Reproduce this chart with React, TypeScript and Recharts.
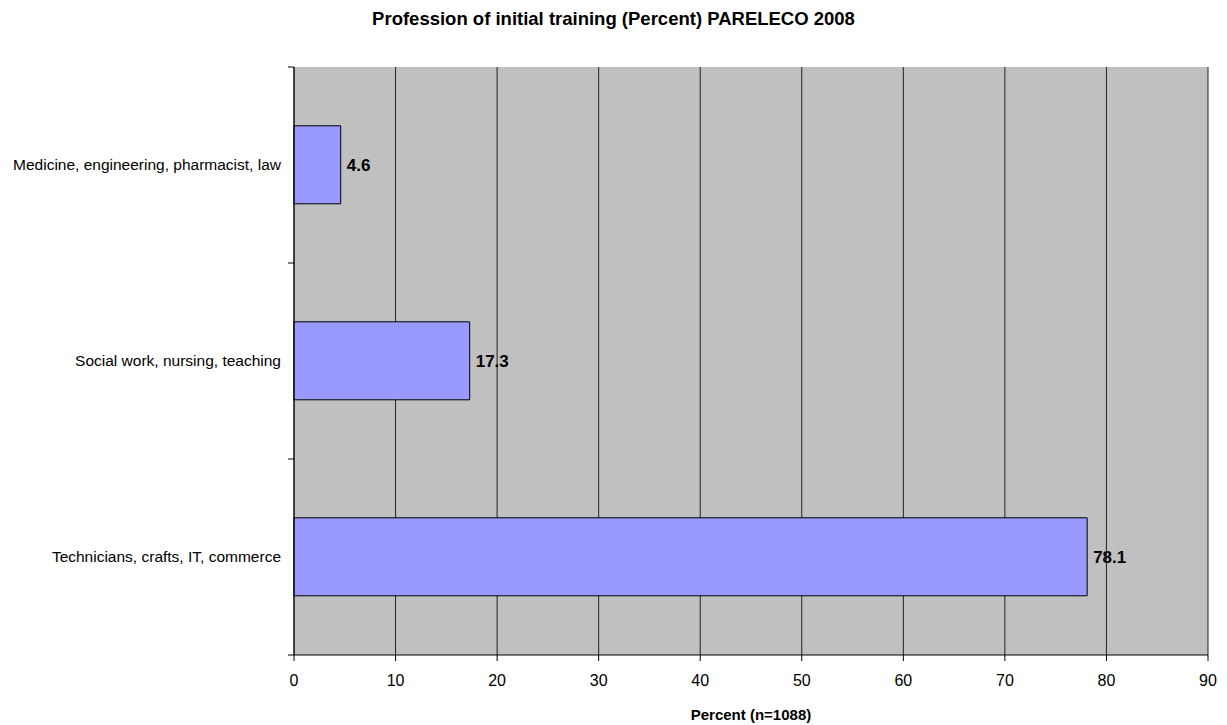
import React from "react";
import { BarChart, Bar, XAxis, YAxis, CartesianGrid, LabelList, Label } from "recharts";

const categories = [
  "Medicine, engineering, pharmacist, law",
  "Social work, nursing, teaching",
  "Technicians, crafts, IT, commerce",
];
const percents = [4.6, 17.3, 78.1];
const xTicks = [0, 10, 20, 30, 40, 50, 60, 70, 80, 90];

const data = categories.map((c, i) => ({ name: c, value: percents[i] }));

const FONT = "'Liberation Sans', Arial, sans-serif";

const CatTick = (props: any) => {
  const { x, y, payload, index, visibleTicksCount } = props;
  const half = payload && payload.offset ? payload.offset : 98;
  const isLast = index === (visibleTicksCount ?? 3) - 1;
  return (
    <g>
      <line x1={x} x2={x + 6} y1={y - half} y2={y - half} stroke="#000" />
      {isLast && <line x1={x} x2={x + 6} y1={y + half} y2={y + half} stroke="#000" />}
      <text x={x - 7} y={y} dy="0.35em" textAnchor="end" fontSize={15.5} fill="#000" fontFamily={FONT}>
        {payload.value}
      </text>
    </g>
  );
};

export default function App() {
  return (
    <div style={{ position: "absolute", left: 0, top: 0, width: 1227, height: 725, background: "#fff" }}>
      <div
        style={{
          position: "absolute",
          left: 0,
          top: 8,
          width: 1227,
          textAlign: "center",
          fontFamily: FONT,
          fontWeight: "bold",
          fontSize: 18.5,
          color: "#000",
        }}
      >
        Profession of initial training (Percent) PARELECO 2008
      </div>
      <BarChart
        width={1227}
        height={725}
        data={data}
        layout="vertical"
        margin={{ top: 67, right: 19, bottom: 0, left: 0 }}
        barCategoryGap="30%"
      >
        <CartesianGrid vertical horizontal={false} fill="#c0c0c0" stroke="#222" fillOpacity={1} />
        <XAxis
          type="number"
          dataKey="value"
          domain={[0, 90]}
          ticks={xTicks}
          interval={0}
          height={70}
          tickSize={6}
          tickMargin={14}
          tick={{ fontSize: 16, fill: "#000", fontFamily: FONT }}
          stroke="#000"
          axisLine={{ stroke: "#000" }}
          tickLine={{ stroke: "#000" }}
        >
          <Label
            value="Percent (n=1088)"
            position="insideBottom"
            offset={5}
            style={{ fontSize: 15, fontWeight: "bold", fill: "#000", fontFamily: FONT }}
          />
        </XAxis>
        <XAxis xAxisId="top" orientation="top" type="number" domain={[0, 90]} height={0} tick={false} tickLine={false} axisLine={{ stroke: "#808080" }} />
        <YAxis
          type="category"
          dataKey="name"
          width={294}
          tickLine={false}
          axisLine={{ stroke: "#000" }}
          tick={<CatTick />}
          tickMargin={0}
          interval={0}
        />
        <Bar
          dataKey="value"
          fill="#9999ff"
          stroke="#000"
          strokeWidth={1}
          isAnimationActive={false}
        >
          <LabelList
            dataKey="value"
            position="right"
            offset={6}
            style={{ fontSize: 17, fontWeight: "bold", fill: "#000", fontFamily: FONT }}
          />
        </Bar>
      </BarChart>
    </div>
  );
}
